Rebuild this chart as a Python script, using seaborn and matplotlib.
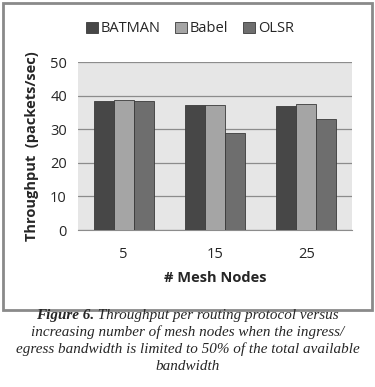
import numpy as np
import pandas as pd
import seaborn as sns
import matplotlib.pyplot as plt
from matplotlib.patches import Rectangle

# data
nodes = ['5', '15', '25']
protocols = ['BATMAN', 'Babel', 'OLSR']
batman = [38.3, 37.3, 36.9]
babel = [38.8, 37.3, 37.6]
olsr = [38.3, 28.8, 33.0]
yticks = [0, 10, 20, 30, 40, 50]

colors = ['#474747', '#a5a5a5', '#6e6e6e']

df = pd.DataFrame({
    'Nodes': nodes * 3,
    'Protocol': [p for p in protocols for _ in nodes],
    'Throughput': batman + babel + olsr,
})

sns.set_style('white')
plt.rcParams['font.family'] = ['Open Sans', 'DejaVu Sans']

fig = plt.figure(figsize=(3.75, 3.87), dpi=100)

# outer chart border
fig.patches.append(Rectangle((3 / 375, 1 - 310 / 387), 369 / 375, 307 / 387,
                             transform=fig.transFigure, fill=False,
                             edgecolor='#8a8a8a', linewidth=2))

ax = fig.add_axes([78 / 375, 1 - 230 / 387, 274 / 375, 168 / 387])
sns.barplot(data=df, x='Nodes', y='Throughput', hue='Protocol', order=nodes,
            hue_order=protocols, palette=colors, width=0.66, edgecolor='#3a3a3a',
            linewidth=0.6, ax=ax, zorder=3)

ax.set_facecolor('#e6e6e6')
ax.set_ylim(0, 50)
ax.set_yticks(yticks)
ax.yaxis.grid(True, color='#8c8c8c', linewidth=0.9, zorder=0)
ax.set_axisbelow(True)
for s in ['top', 'right', 'left']:
    ax.spines[s].set_visible(False)
ax.spines['bottom'].set_color('#8c8c8c')
ax.tick_params(axis='y', length=4, color='#8c8c8c', labelsize=10.5, pad=4)
ax.tick_params(axis='x', length=0, labelsize=10.5, pad=12)
ax.set_xlabel('# Mesh Nodes', fontsize=10.5, fontweight='bold', labelpad=7)
ax.set_ylabel('Throughput  (packets/sec)', fontsize=10.5, fontweight='bold', labelpad=8)

leg = ax.legend(loc='center', bbox_to_anchor=(190 / 375, 1 - 29 / 387),
                bbox_transform=fig.transFigure, ncol=3, frameon=False,
                fontsize=10.5, handlelength=0.8, handleheight=0.8,
                handletextpad=0.2, columnspacing=1.0)

# caption: bold italic "Figure 6." followed by italic text
cap_font = dict(fontsize=10.9, style='italic', family='Liberation Serif')
head = 'Figure 6.'
rest = ' Throughput per routing protocol versus'
renderer = fig.canvas.get_renderer()
t1 = fig.text(0, 0, head, fontweight='bold', **cap_font)
t2 = fig.text(0, 0, rest, **cap_font)
w1 = t1.get_window_extent(renderer).width
w2 = t2.get_window_extent(renderer).width
x0 = (375 - w1 - w2) / 2
y1 = 1 - 315 / 387
t1.set_position((x0 / 375, y1))
t1.set_va('center')
t2.set_position(((x0 + w1) / 375, y1))
t2.set_va('center')

caption_lines = ['increasing number of mesh nodes when the ingress/',
                 'egress bandwidth is limited to 50% of the total available',
                 'bandwidth']
for i, line in enumerate(caption_lines):
    fig.text(0.5, 1 - (332 + 17.3 * i) / 387, line, ha='center', va='center', **cap_font)

fig.savefig('out.png', dpi=100)
